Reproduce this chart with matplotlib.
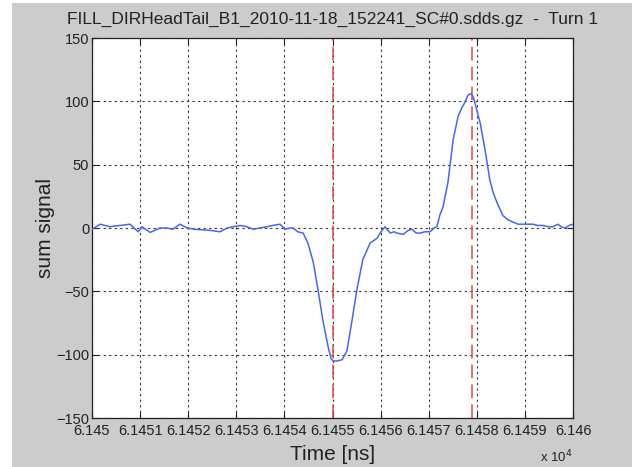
import matplotlib
matplotlib.use("Agg")
import matplotlib.pyplot as plt
from matplotlib.patches import Rectangle
from matplotlib.ticker import FixedLocator, FuncFormatter

plt.rcParams["font.family"] = ["Liberation Sans", "DejaVu Sans"]

# sum signal trace
time_ns = [
    61450.00, 61450.17, 61450.37, 61450.58, 61450.79, 61450.96, 61451.04, 61451.21,
    61451.41, 61451.56, 61451.68, 61451.83, 61451.98, 61452.14, 61452.31, 61452.49,
    61452.66, 61452.81, 61452.93, 61453.08, 61453.22, 61453.35, 61453.49, 61453.64,
    61453.76, 61453.91, 61454.01, 61454.12, 61454.18, 61454.28, 61454.39, 61454.49,
    61454.60, 61454.70, 61454.80, 61454.91, 61454.97, 61455.01, 61455.09, 61455.20,
    61455.30, 61455.41, 61455.51, 61455.63, 61455.78, 61455.93, 61455.99, 61456.09,
    61456.20, 61456.28, 61456.34, 61456.47, 61456.57, 61456.65, 61456.74, 61456.82,
    61456.92, 61457.03, 61457.11, 61457.17, 61457.23, 61457.30, 61457.40, 61457.51,
    61457.61, 61457.69, 61457.75, 61457.82, 61457.88, 61457.92, 61457.96, 61458.02,
    61458.07, 61458.17, 61458.27, 61458.34, 61458.42, 61458.54, 61458.63, 61458.73,
    61458.86, 61458.96, 61459.06, 61459.17, 61459.27, 61459.38, 61459.48, 61459.58,
    61459.69, 61459.75, 61459.83, 61459.92, 61460.00,
]
sum_signal = [
    -1, 3, 1, 2, 3, -3, 1, -3.5,
    0, 0, -1, 3, 0, -1, -1.5, -2,
    -3, 0, 1, 2, 1, -1, 0, 1,
    2, 3, -1, 0, 0, -3, -4, -12,
    -27, -49, -73, -94, -103, -105, -105, -104,
    -97, -72, -48, -25, -12, -8, -4, 1,
    -4, -3, -4, -5, -2, -1, -4, -4,
    -3, -3, 0, 1, 10, 17, 36, 70,
    88, 95, 99, 105, 106, 104, 99, 90,
    83, 62, 38, 28, 20, 10, 7, 5,
    3, 3, 3, 3, 2, 2, 1, 1,
    3, 1, 0, 2, 3,
]
marker_times = [61455.0, 61457.9]

x_ticks = [61450 + i for i in range(11)]
y_ticks = [-150, -100, -50, 0, 50, 100, 150]
title = "FILL_DIRHeadTail_B1_2010-11-18_152241_SC#0.sdds.gz  -  Turn 1"

fig = plt.figure(figsize=(6.32, 4.67), dpi=100, facecolor="white")
fig.patches.append(Rectangle((12 / 632, 0), 1, 1 - 3 / 467, transform=fig.transFigure,
                             facecolor="#cccccc", edgecolor="none", zorder=-10))

ax = fig.add_axes([92 / 632, 1 - 418 / 467, 481 / 632, 380 / 467])
ax.set_facecolor("white")

ax.plot(time_ns, sum_signal, color="#4866f0", lw=1.1, zorder=3)
for t in marker_times:
    ax.axvline(t, color="#e04848", lw=1.1, linestyle=(0, (9, 4)), zorder=2)

ax.set_xlim(61450, 61460)
ax.set_ylim(-150, 150)
ax.xaxis.set_major_locator(FixedLocator(x_ticks))
ax.yaxis.set_major_locator(FixedLocator(y_ticks))
ax.xaxis.set_major_formatter(FuncFormatter(lambda v, pos: "%g" % round(v / 1e4, 5)))
ax.grid(True, color="#333333", lw=0.8, linestyle=(0, (2, 3)))
ax.tick_params(direction="in", length=4, width=0.8, top=True, right=True,
               labelsize=10.5, colors="#222222")
ax.tick_params(axis="x", pad=4)
ax.tick_params(axis="y", pad=2)
for spine in ax.spines.values():
    spine.set_linewidth(0.9)
    spine.set_color("#222222")

ax.set_title(title, fontsize=12.5, color="#222222", pad=10)
ax.set_xlabel("Time [ns]", fontsize=15, color="#222222", labelpad=5)
ax.set_ylabel("sum signal", fontsize=15, color="#222222", labelpad=1)
fig.text(573 / 632, 1 - 457 / 467, "x 10$^4$", ha="right", va="center",
         fontsize=9.5, color="#222222")

fig.savefig("out.png", dpi=100, facecolor=fig.get_facecolor())
